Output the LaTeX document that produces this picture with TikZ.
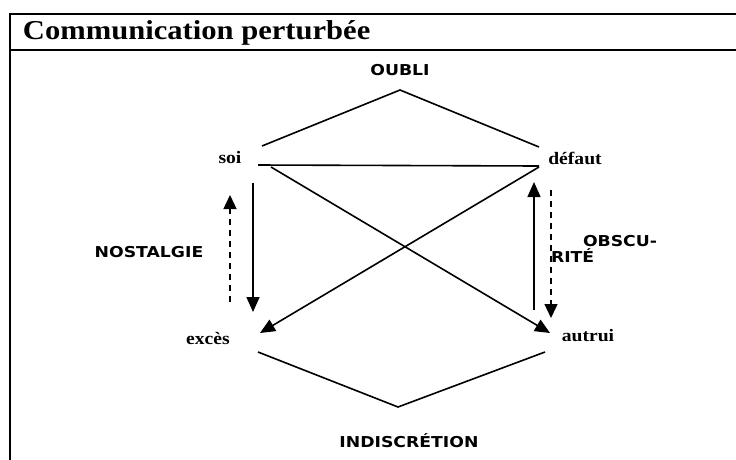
\documentclass[tikz,border=0pt]{standalone}
\usepackage{fontspec}
\setmainfont{Liberation Serif}[FakeStretch=1.12]
\newfontfamily\vfont{DejaVu Sans}[FakeStretch=1.15]
\usetikzlibrary{arrows.meta}
\begin{document}
\begin{tikzpicture}[x=1pt,y=-1pt,
  every node/.style={inner sep=0pt, outer sep=0pt},
  frameline/.style={line width=2pt, line cap=rect},
  link/.style={line width=1.6pt},
  arr/.style={line width=1.6pt, -{Triangle[length=15pt,width=13pt]}},
  darr/.style={line width=1.4pt, dash pattern=on 6pt off 5pt, -{Triangle[length=14pt,width=13pt]}},
  serlabel/.style={font=\fontsize{17.5}{20}\selectfont\bfseries},
  caplabel/.style={font=\vfont\fontsize{15}{18}\selectfont\bfseries},
  titlefont/.style={font=\fontsize{27.3}{30}\selectfont\bfseries}]
\useasboundingbox (0,0) rectangle (736,459);
% frame
\draw[frameline] (10,13.5) -- (736,13.5);
\draw[frameline] (10,49.5) -- (736,49.5);
\draw[frameline] (10,13.5) -- (10,459);
\node[titlefont, anchor=base west] (title) at (23,39.5) {Communication perturbée};
% labels
\node[caplabel] (oubli) at (400,70) {OUBLI};
\node[serlabel] (soi) at (230,158) {soi};
\node[serlabel] (defaut) at (575,158) {défaut};
\node[serlabel] (exces) at (208,338) {excès};
\node[serlabel] (autrui) at (588,336) {autrui};
\node[caplabel] (nost) at (149,252) {NOSTALGIE};
\node[caplabel, anchor=west] (obscu) at (583,241.5) {OBSCU-};
\node[caplabel, anchor=west] (rite) at (551,256) {RITÉ};
\node[caplabel] (indis) at (409,441) {INDISCRÉTION};
% connector points
\coordinate (apexT) at (400,90);
\coordinate (soiT) at (262,146);
\coordinate (defT) at (539,147);
\coordinate (soiH) at (258,165);
\coordinate (defH) at (539,166);
\coordinate (soiD) at (271,167);
\coordinate (defD) at (539,167);
\coordinate (autTip) at (550,333);
\coordinate (excTip) at (260,333);
\coordinate (soiV) at (253,183);
\coordinate (excV) at (253,312);
\coordinate (excN) at (230,302);
\coordinate (soiN) at (230,195);
\coordinate (autV) at (534,310);
\coordinate (defV) at (534,182);
\coordinate (defO) at (551,190);
\coordinate (autO) at (551,318);
\coordinate (excB) at (258,352);
\coordinate (apexB) at (398,407);
\coordinate (autB) at (545,352);
% lines
\draw[link] (soiT) -- (apexT) -- (defT);
\draw[link] (soiH) -- (defH);
\draw[arr] (soiD) -- (autTip);
\draw[arr] (defD) -- (excTip);
\draw[arr] (soiV) -- (excV);
\draw[darr] (excN) -- (soiN);
\draw[arr] (autV) -- (defV);
\draw[darr] (defO) -- (autO);
\draw[link] (excB) -- (apexB) -- (autB);
\end{tikzpicture}
\end{document}
